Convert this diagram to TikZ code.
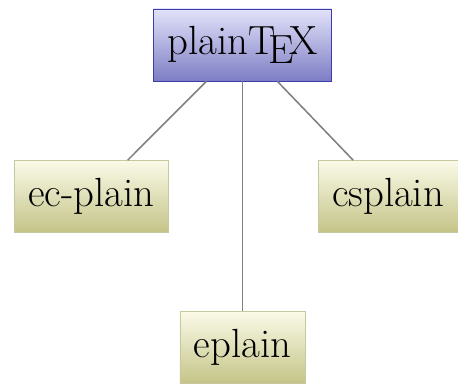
\documentclass[tikz,border=0pt]{standalone}
\usepackage{tikz}
\usetikzlibrary{positioning}
\definecolor{plaintop}{RGB}{226,226,250}
\definecolor{plainbot}{RGB}{125,125,196}
\definecolor{plainrule}{RGB}{60,60,170}
\definecolor{derivtop}{RGB}{250,250,232}
\definecolor{derivbot}{RGB}{196,196,136}
\definecolor{derivrule}{RGB}{200,200,160}
\tikzset{
  pkgbase/.style={rectangle, draw, thin, inner xsep=0.35cm, minimum height=1.8cm,
                  font=\fontsize{29}{34}\selectfont},
  plainpkg/.style={pkgbase, draw=plainrule, top color=plaintop, bottom color=plainbot},
  derivpkg/.style={pkgbase, draw=derivrule, top color=derivtop, bottom color=derivbot},
  link/.style={draw=gray, line width=1.1pt}
}
\begin{document}
\begin{tikzpicture}[x=0.025cm, y=-0.025cm]
  \useasboundingbox (0,0) rectangle (458,385);
  \node[plainpkg] (plaintex) at (242.5,45) {plain\TeX};
  \node[derivpkg] (ecplain)  at (91.5,196.5) {ec-plain};
  \node[derivpkg] (csplain)  at (388,196.5) {csplain};
  \node[derivpkg] (eplain)   at (242.5,347.5) {eplain};
  \draw[link] (plaintex) -- (ecplain);
  \draw[link] (plaintex) -- (eplain);
  \draw[link] (plaintex) -- (csplain);
\end{tikzpicture}
\end{document}
